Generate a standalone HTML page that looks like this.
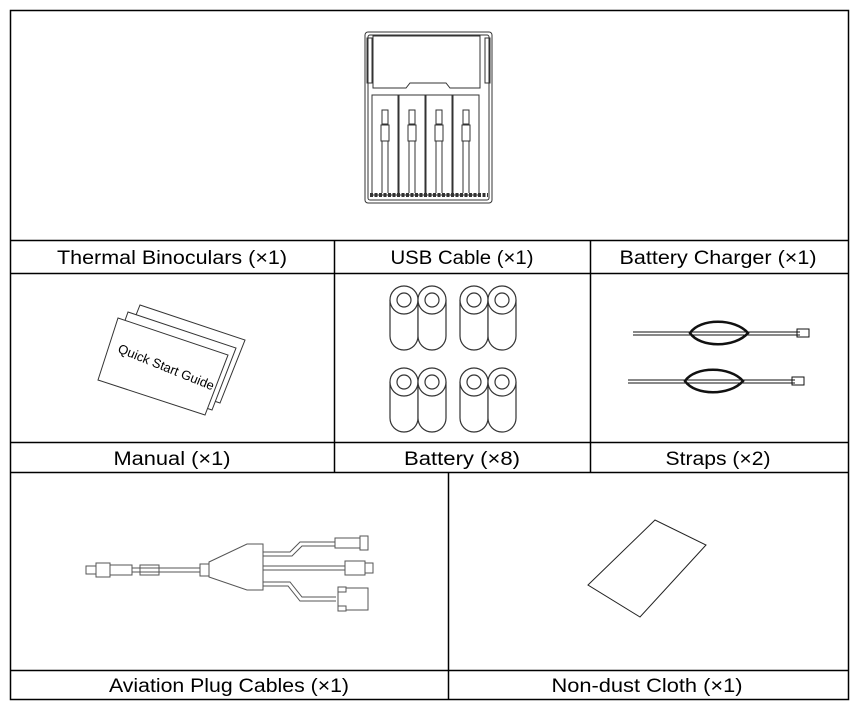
<!DOCTYPE html>
<html><head><style>
body{margin:0;background:#fff;}
svg{display:block;}
text{font-family:"Liberation Sans",sans-serif;font-size:19px;fill:#000;}
</style></head><body>
<svg width="859" height="712" viewBox="0 0 859 712" xmlns="http://www.w3.org/2000/svg">
<g stroke="#000" stroke-width="1.5" fill="none">
<rect x="10.5" y="10.5" width="838" height="689"/>
<line x1="10" y1="240.5" x2="849" y2="240.5"/>
<line x1="10" y1="273.5" x2="849" y2="273.5"/>
<line x1="10" y1="442.5" x2="849" y2="442.5"/>
<line x1="10" y1="472.5" x2="849" y2="472.5"/>
<line x1="10" y1="670.5" x2="849" y2="670.5"/>
<line x1="334.5" y1="240" x2="334.5" y2="472"/>
<line x1="590.5" y1="240" x2="590.5" y2="472"/>
<line x1="448.5" y1="472" x2="448.5" y2="700"/>
</g>
<g text-anchor="middle">
<text x="172" y="264" textLength="230" lengthAdjust="spacingAndGlyphs">Thermal Binoculars (×1)</text>
<text x="462" y="264" textLength="143" lengthAdjust="spacingAndGlyphs">USB Cable (×1)</text>
<text x="718" y="264" textLength="197" lengthAdjust="spacingAndGlyphs">Battery Charger (×1)</text>
<text x="172" y="465" textLength="117" lengthAdjust="spacingAndGlyphs">Manual (×1)</text>
<text x="462" y="465" textLength="116" lengthAdjust="spacingAndGlyphs">Battery (×8)</text>
<text x="718" y="465" textLength="105" lengthAdjust="spacingAndGlyphs">Straps (×2)</text>
<text x="229" y="692" textLength="240" lengthAdjust="spacingAndGlyphs">Aviation Plug Cables (×1)</text>
<text x="647" y="692" textLength="191" lengthAdjust="spacingAndGlyphs">Non-dust Cloth (×1)</text>
</g>
<!-- charger -->
<g stroke="#333" stroke-width="1" fill="none">
<rect x="365" y="32" width="127" height="171" rx="3"/>
<rect x="368" y="35" width="121" height="165" rx="2"/>
<path d="M373 36 H480 V88 H450 L446 83 H410 L406 88 H373 Z"/>
<rect x="367" y="38" width="5" height="45"/><rect x="485" y="38" width="5" height="45"/>
<rect x="372" y="95" width="26" height="100"/><rect x="399" y="95" width="26" height="100"/>
<rect x="426" y="95" width="26" height="100"/><rect x="453" y="95" width="26" height="100"/>
<g id="s"><rect x="382" y="110" width="6" height="14"/><rect x="381" y="125" width="8" height="16"/><line x1="382" y1="141" x2="382" y2="193"/><line x1="388" y1="141" x2="388" y2="193"/></g>
<use href="#s" x="27"/><use href="#s" x="54"/><use href="#s" x="81"/>
<line x1="370" y1="195" x2="488" y2="195" stroke-dasharray="3,1.5" stroke-width="4"/>
</g>
<!-- manual -->
<g stroke="#333" stroke-width="1" fill="#fff">
<polygon points="140,305 245,340 220,403 115,368"/>
<polygon points="128,312 236,348 212,410 106,374"/>
<polygon points="118,318 228,355 205,415 98,380"/>
</g>
<text x="0" y="0" style="font-size:13px" transform="translate(117,352) rotate(22)">Quick Start Guide</text>
<!-- batteries -->
<g stroke="#333" stroke-width="1.2" fill="#fff">
<g id="b"><path d="M390 300 V336 A14 14 0 0 0 418 336 V300"/><circle cx="404" cy="300" r="14"/><circle cx="404" cy="300" r="7"/></g>
<use href="#b" x="28"/><use href="#b" x="70"/><use href="#b" x="98"/>
<use href="#b" y="82"/><use href="#b" x="28" y="82"/><use href="#b" x="70" y="82"/><use href="#b" x="98" y="82"/>
</g>
<!-- straps -->
<g stroke="#111" fill="none">
<g id="st"><line x1="633" y1="332" x2="800" y2="332" stroke-width="1"/><line x1="633" y1="335" x2="800" y2="335" stroke-width="1"/>
<path d="M690 333 C700 318,735 318,748 333 C735 348,700 348,690 333Z" stroke-width="2.5"/>
<rect x="797" y="329" width="12" height="8" stroke-width="1"/></g>
<use href="#st" x="-5" y="48"/>
</g>
<!-- cables -->
<g stroke="#555" stroke-width="1" fill="#fff">
<rect x="86" y="566" width="10" height="8"/><rect x="96" y="563" width="14" height="14"/>
<rect x="110" y="565" width="22" height="10"/><rect x="140" y="565" width="19" height="10"/>
<line x1="132" y1="568" x2="200" y2="568"/><line x1="132" y1="572" x2="200" y2="572"/>
<rect x="200" y="564" width="9" height="12"/>
<polygon points="209,562 247,544 263,544 263,590 247,590 209,577"/>
<path d="M263 552 H290 L300 542 H335 M263 556 H292 L302 546 H335" fill="none"/>
<rect x="335" y="538" width="25" height="10"/><rect x="360" y="536" width="8" height="14"/>
<path d="M263 566 H345 M263 570 H345" fill="none"/><rect x="345" y="561" width="20" height="14"/><rect x="365" y="563" width="8" height="10"/>
<path d="M263 582 H290 L302 597 H336 M263 586 H288 L300 601 H336" fill="none"/>
<rect x="338" y="588" width="30" height="22"/><rect x="338" y="587" width="8" height="5"/><rect x="338" y="606" width="8" height="5"/>
</g>
<!-- cloth -->
<polygon points="588,585 655,520 706,545 640,617" fill="#fff" stroke="#222" stroke-width="1"/>
</svg>
</body></html>
